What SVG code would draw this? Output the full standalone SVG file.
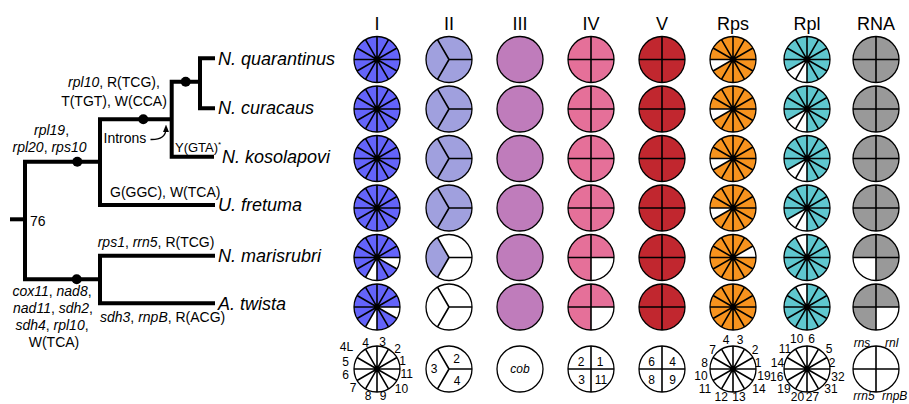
<svg xmlns="http://www.w3.org/2000/svg" width="909" height="404" viewBox="0 0 909 404">
  <style>
    text { font-family: "Liberation Sans", Arial, Helvetica, sans-serif; fill: #000; }
    .lab { font-size: 14px; }
    .tax { font-size: 18px; font-style: italic; }
    .hd { font-size: 18px; text-anchor: middle; }
    .lg { font-size: 12px; text-anchor: middle; }
    .it { font-style: italic; }
    .br { fill: none; stroke: #000; stroke-width: 4; stroke-linejoin: miter; }
    .ring { fill: none; stroke: #000; stroke-width: 1.3; }
    .div { fill: none; stroke: #000; stroke-width: 1.6; }
    .w { fill: #fff; }
  </style>
  <defs>
    <!-- divider sets, drawn about a pie centre at 0,0 -->
    <path id="l12" class="div" d="M-23 0H23M0-23V23M-19.92-11.5L19.92 11.5M-11.5-19.92L11.5 19.92M11.5-19.92L-11.5 19.92M19.92-11.5L-19.92 11.5"/>
    <path id="l3" class="div" d="M0 0H23M0 0L-11.5-19.92M0 0L-11.5 19.92"/>
    <path id="l4" class="div" d="M-23 0H23M0-23V23"/>
    <marker id="ah" viewBox="0 0 10 10" refX="5" refY="5" markerWidth="6" markerHeight="6" orient="auto">
      <path d="M0 1L10 5L0 9Z" fill="#000"/>
    </marker>

    <!-- Complex I (nad) -->
    <g id="pI"><circle r="23" fill="#6464FA"/><use href="#l12"/><circle r="23" class="ring"/><circle r="2.6"/></g>
    <g id="pIx"><circle r="23" fill="#6464FA"/><path class="w" d="M0 0H23A23 23 0 0 1 19.92 11.5Z"/><path class="w" d="M0 0V23A23 23 0 0 1 -11.5 19.92Z"/><use href="#l12"/><circle r="23" class="ring"/><circle r="2.6"/></g>
    <!-- Complex II (sdh) -->
    <g id="pII"><circle r="23" fill="#A0A0DE"/><use href="#l3"/><circle r="23" class="ring"/></g>
    <g id="pIIa"><circle r="23" fill="#fff"/><path fill="#A0A0DE" d="M0 0L-11.5 19.92A23 23 0 0 1 -11.5 -19.92Z"/><use href="#l3"/><circle r="23" class="ring"/></g>
    <g id="pIIb"><circle r="23" fill="#fff"/><use href="#l3"/><circle r="23" class="ring"/></g>
    <!-- Complex III (cob) -->
    <g id="pIII"><circle r="23" fill="#BF7CBB"/><circle r="23" class="ring"/></g>
    <!-- Complex IV (cox) -->
    <g id="pIV"><circle r="23" fill="#E57099"/><use href="#l4"/><circle r="23" class="ring"/></g>
    <g id="pIVx"><circle r="23" fill="#E57099"/><path class="w" d="M0 0H23A23 23 0 0 1 0 23Z"/><use href="#l4"/><circle r="23" class="ring"/></g>
    <!-- Complex V (atp) -->
    <g id="pV"><circle r="23" fill="#C1272F"/><use href="#l4"/><circle r="23" class="ring"/></g>
    <!-- small-subunit ribosomal proteins -->
    <g id="pRps"><circle r="23" fill="#F7931E"/><path class="w" d="M0 0L-19.92 11.5A23 23 0 0 1 -23 0Z"/><use href="#l12"/><circle r="23" class="ring"/><circle r="2.6"/></g>
    <g id="pRpsA"><circle r="23" fill="#F7931E"/><path class="w" d="M0 0L19.92 -11.5A23 23 0 0 1 23 0Z"/><use href="#l12"/><circle r="23" class="ring"/><circle r="2.6"/></g>
    <g id="pRpsF"><circle r="23" fill="#F7931E"/><use href="#l12"/><circle r="23" class="ring"/><circle r="2.6"/></g>
    <!-- large-subunit ribosomal proteins -->
    <g id="pRpl"><circle r="23" fill="#5FC7CF"/><path class="w" d="M0 0V23A23 23 0 0 1 -19.92 11.5Z"/><use href="#l12"/><circle r="23" class="ring"/><circle r="2.6"/></g>
    <g id="pRplx"><circle r="23" fill="#5FC7CF"/><path class="w" d="M0 0L-11.5 -19.92A23 23 0 0 1 0 -23Z"/><use href="#l12"/><circle r="23" class="ring"/><circle r="2.6"/></g>
    <!-- structural RNAs -->
    <g id="pRNA"><circle r="23" fill="#999"/><use href="#l4"/><circle r="23" class="ring"/></g>
    <g id="pRNAa"><circle r="23" fill="#999"/><path class="w" d="M0 0V23A23 23 0 0 1 -23 0Z"/><use href="#l4"/><circle r="23" class="ring"/></g>
    <g id="pRNAb"><circle r="23" fill="#999"/><path class="w" d="M0 0H23A23 23 0 0 1 0 23Z"/><use href="#l4"/><circle r="23" class="ring"/></g>
    <!-- key pies -->
    <g id="k12"><circle r="23" fill="#fff"/><use href="#l12"/><circle r="23" class="ring"/><circle r="2.6"/></g>
    <g id="k3"><circle r="23" fill="#fff"/><use href="#l3"/><circle r="23" class="ring"/></g>
    <g id="k4"><circle r="23" fill="#fff"/><use href="#l4"/><circle r="23" class="ring"/></g>
  </defs>

  <rect width="909" height="404" fill="#fff"/>

  <!-- tree branches -->
  <g id="connectors">
    <path class="br" d="M10 219.3H25"/>
    <path class="br" d="M100 161.7H25V279.3H100"/>
    <path class="br" d="M171.7 119.3H100V205H215"/>
    <path class="br" d="M200 81.7H171.7V156.7H214"/>
    <path class="br" d="M215 58.3H200V108.3H215"/>
    <path class="br" d="M215 255.7H100V303.3H215"/>
    <circle cx="77.3" cy="161.7" r="5"/>
    <circle cx="143.3" cy="119.3" r="5"/>
    <circle cx="185.7" cy="81.7" r="5"/>
    <circle cx="76.7" cy="279.3" r="5"/>
    <path d="M150.5 139.5Q166 140 166 128.5" fill="none" stroke="#000" stroke-width="1.3" marker-end="url(#ah)"/>
  </g>

  <!-- branch annotations -->
  <g id="branch-labels" class="lab">
    <text x="114" y="86.7" text-anchor="middle"><tspan class="it">rpl10</tspan>, R(TCG),</text>
    <text x="114" y="105.5" text-anchor="middle">T(TGT), W(CCA)</text>
    <text x="51.5" y="134.5" text-anchor="middle"><tspan class="it">rpl19</tspan>,</text>
    <text x="49.5" y="152" text-anchor="middle"><tspan class="it">rpl20</tspan>, <tspan class="it">rps10</tspan></text>
    <text x="103.5" y="143">Introns</text>
    <text x="175" y="151.7" style="font-size:13px">Y(GTA)<tspan dy="-5" style="font-size:8px">*</tspan></text>
    <text x="110" y="196.5">G(GGC), W(TCA)</text>
    <text x="30" y="226">76</text>
    <text x="97.7" y="247.3"><tspan class="it">rps1</tspan>, <tspan class="it">rrn5</tspan>, R(TCG)</text>
    <text x="100" y="321.7"><tspan class="it">sdh3</tspan>, <tspan class="it">rnpB</tspan>, R(ACG)</text>
    <text x="52" y="295.7" text-anchor="middle"><tspan class="it">cox11</tspan>, <tspan class="it">nad8</tspan>,</text>
    <text x="53" y="312.7" text-anchor="middle"><tspan class="it">nad11</tspan>, <tspan class="it">sdh2</tspan>,</text>
    <text x="52" y="330" text-anchor="middle"><tspan class="it">sdh4</tspan>, <tspan class="it">rpl10</tspan>,</text>
    <text x="54" y="346.7" text-anchor="middle">W(TCA)</text>
  </g>

  <!-- taxa -->
  <g id="taxon-quarantinus"><text class="tax" x="218" y="64.5">N. quarantinus</text></g>
  <g id="taxon-curacaus"><text class="tax" x="218" y="114.3">N. curacaus</text></g>
  <g id="taxon-kosolapovi"><text class="tax" x="222" y="162.7">N. kosolapovi</text></g>
  <g id="taxon-fretuma"><text class="tax" x="218" y="211">U. fretuma</text></g>
  <g id="taxon-marisrubri"><text class="tax" x="218" y="261.5">N. marisrubri</text></g>
  <g id="taxon-twista"><text class="tax" x="218" y="309.5">A. twista</text></g>

  <!-- column headers -->
  <g id="headers" class="hd">
    <text x="377" y="30">I</text>
    <text x="449" y="30">II</text>
    <text x="520" y="30">III</text>
    <text x="591" y="30">IV</text>
    <text x="662" y="30">V</text>
    <text x="733" y="30">Rps</text>
    <text x="807" y="30">Rpl</text>
    <text x="876" y="30">RNA</text>
  </g>

  <!-- gene content per taxon -->
  <g id="row-quarantinus">
    <use href="#pI" x="377" y="59.5"/><use href="#pII" x="449" y="59.5"/><use href="#pIII" x="520" y="59.5"/><use href="#pIV" x="591" y="59.5"/>
    <use href="#pV" x="662" y="59.5"/><use href="#pRps" x="733" y="59.5"/><use href="#pRpl" x="807" y="59.5"/><use href="#pRNA" x="876" y="59.5"/>
  </g>
  <g id="row-curacaus">
    <use href="#pI" x="377" y="109"/><use href="#pII" x="449" y="109"/><use href="#pIII" x="520" y="109"/><use href="#pIV" x="591" y="109"/>
    <use href="#pV" x="662" y="109"/><use href="#pRps" x="733" y="109"/><use href="#pRpl" x="807" y="109"/><use href="#pRNA" x="876" y="109"/>
  </g>
  <g id="row-kosolapovi">
    <use href="#pI" x="377" y="158.5"/><use href="#pII" x="449" y="158.5"/><use href="#pIII" x="520" y="158.5"/><use href="#pIV" x="591" y="158.5"/>
    <use href="#pV" x="662" y="158.5"/><use href="#pRps" x="733" y="158.5"/><use href="#pRpl" x="807" y="158.5"/><use href="#pRNA" x="876" y="158.5"/>
  </g>
  <g id="row-fretuma">
    <use href="#pI" x="377" y="208"/><use href="#pII" x="449" y="208"/><use href="#pIII" x="520" y="208"/><use href="#pIV" x="591" y="208"/>
    <use href="#pV" x="662" y="208"/><use href="#pRps" x="733" y="208"/><use href="#pRpl" x="807" y="208"/><use href="#pRNA" x="876" y="208"/>
  </g>
  <g id="row-marisrubri">
    <use href="#pIx" x="377" y="257.5"/><use href="#pIIa" x="449" y="257.5"/><use href="#pIII" x="520" y="257.5"/><use href="#pIVx" x="591" y="257.5"/>
    <use href="#pV" x="662" y="257.5"/><use href="#pRpsA" x="733" y="257.5"/><use href="#pRplx" x="807" y="257.5"/><use href="#pRNAa" x="876" y="257.5"/>
  </g>
  <g id="row-twista">
    <use href="#pIx" x="377" y="307"/><use href="#pIIb" x="449" y="307"/><use href="#pIII" x="520" y="307"/><use href="#pIVx" x="591" y="307"/>
    <use href="#pV" x="662" y="307"/><use href="#pRpsF" x="733" y="307"/><use href="#pRplx" x="807" y="307"/><use href="#pRNAb" x="876" y="307"/>
  </g>

  <!-- key: gene for each segment -->
  <g id="key-I">
    <use href="#k12" x="377" y="369"/>
    <g class="lg">
      <text x="346.5" y="350.5">4L</text><text x="365.5" y="346.5">4</text><text x="382.5" y="346">3</text><text x="397.5" y="352.5">2</text>
      <text x="402.5" y="365">1</text><text x="406.7" y="378">11</text><text x="401.5" y="392.7">10</text><text x="383" y="400">9</text>
      <text x="368" y="400">8</text><text x="353" y="391.7">7</text><text x="345.5" y="378.5">6</text><text x="345.5" y="365.5">5</text>
    </g>
  </g>
  <g id="key-II">
    <use href="#k3" x="449" y="369"/>
    <g class="lg"><text x="456.7" y="363.3">2</text><text x="434" y="372.7">3</text><text x="457" y="385">4</text></g>
  </g>
  <g id="key-III">
    <circle cx="520" cy="369" r="23" class="ring"/>
    <text class="lg it" x="520" y="373">cob</text>
  </g>
  <g id="key-IV">
    <use href="#k4" x="591" y="369"/>
    <g class="lg"><text x="581" y="366">2</text><text x="600" y="366">1</text><text x="581.5" y="384">3</text><text x="601" y="384">11</text></g>
  </g>
  <g id="key-V">
    <use href="#k4" x="662" y="369"/>
    <g class="lg"><text x="651.5" y="366">6</text><text x="672.5" y="366">4</text><text x="651.5" y="384">8</text><text x="672.5" y="384">9</text></g>
  </g>
  <g id="key-Rps">
    <use href="#k12" x="733" y="369"/>
    <g class="lg">
      <text x="726" y="344.3">4</text><text x="740" y="344.3">3</text><text x="712.5" y="354.3">7</text><text x="755" y="354">2</text>
      <text x="704.5" y="366.5">8</text><text x="758" y="366.5">1</text><text x="701" y="380">10</text><text x="764" y="380">19</text>
      <text x="705" y="392.5">11</text><text x="759" y="392.5">14</text><text x="721.3" y="400.5">12</text><text x="739" y="400.5">13</text>
    </g>
  </g>
  <g id="key-Rpl">
    <use href="#k12" x="807" y="369"/>
    <g class="lg">
      <text x="796.7" y="343.3">10</text><text x="811.7" y="343.3">6</text><text x="785" y="353.3">11</text><text x="829" y="353">5</text>
      <text x="777.5" y="366.5">14</text><text x="832" y="366.5">2</text><text x="776.7" y="380.5">16</text><text x="838" y="380.5">32</text>
      <text x="784" y="392.5">19</text><text x="831" y="392.5">31</text><text x="797.5" y="400.5">20</text><text x="812.5" y="400.5">27</text>
    </g>
  </g>
  <g id="key-RNA">
    <use href="#k4" x="876" y="369"/>
    <g class="lg it">
      <text x="862" y="347.3">rns</text><text x="891.7" y="347.3">rnl</text>
      <text x="864" y="400">rrn5</text><text x="882" y="400" text-anchor="start">rnpB</text>
    </g>
  </g>
</svg>
